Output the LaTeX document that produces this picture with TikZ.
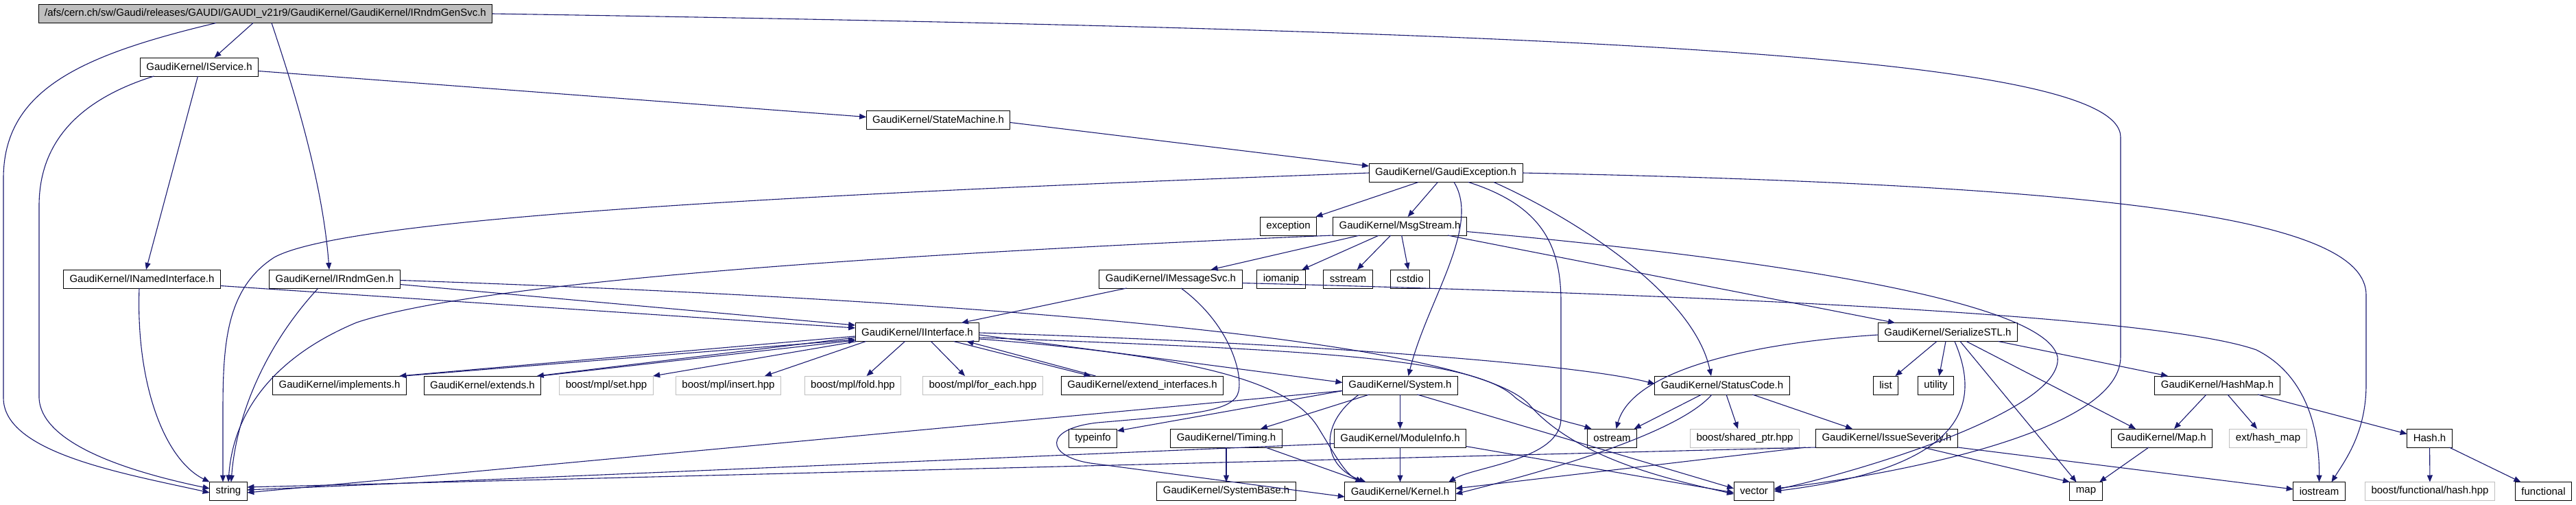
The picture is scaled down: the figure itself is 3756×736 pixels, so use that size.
\documentclass[tikz,border=0pt]{standalone}
\usepackage{fontspec}
\setmainfont{Liberation Sans}
\usetikzlibrary{arrows.meta}
\definecolor{incEdge}{HTML}{191970}
\definecolor{incGray}{HTML}{BFBFBF}
\tikzset{
  inc graph/.style={
    x=1pt, y=-1pt, line width=1pt,
    every node/.style={font=\fontsize{15}{18}\selectfont, text=black,
      inner xsep=9pt, inner ysep=0pt, outer sep=0pt, minimum height=27pt}
  },
  inc file/.style={draw=black},
  inc missing/.style={draw=incGray},
  inc root/.style={draw=black, fill=incGray},
  inc edge/.style={draw=incEdge, line width=1.1pt,
    -{Triangle[length=10pt,width=8pt]}}
}

\begin{document}
\begin{tikzpicture}[inc graph]
  \useasboundingbox (0,0) rectangle (3756,736);
  % files
  \node[inc root] (root) at (387,20)
    {/afs/cern.ch/sw/Gaudi/releases/GAUDI/GAUDI\_v21r9/GaudiKernel/GaudiKernel/IRndmGenSvc.h};
  \node[inc file] (IService) at (290.5,97.5) {GaudiKernel/IService.h};
  \node[inc file] (StateMachine) at (1368,174.5) {GaudiKernel/StateMachine.h};
  \node[inc file] (GaudiException) at (2108,252) {GaudiKernel/GaudiException.h};
  \node[inc file] (exception) at (1878.5,329.5) {exception};
  \node[inc file] (MsgStream) at (2041,329.5) {GaudiKernel/MsgStream.h};
  \node[inc file] (INamedInterface) at (207,406.5) {GaudiKernel/INamedInterface.h};
  \node[inc file] (IRndmGen) at (488,406.5) {GaudiKernel/IRndmGen.h};
  \node[inc file] (IMessageSvc) at (1707,406.5) {GaudiKernel/IMessageSvc.h};
  \node[inc file] (iomanip) at (1868,406.5) {iomanip};
  \node[inc file] (sstream) at (1965.5,406.5) {sstream};
  \node[inc file] (cstdio) at (2056,406.5) {cstdio};
  \node[inc file] (IInterface) at (1337.5,484) {GaudiKernel/IInterface.h};
  \node[inc file] (SerializeSTL) at (2840,484) {GaudiKernel/SerializeSTL.h};
  \node[inc file] (implements) at (495,561.5) {GaudiKernel/implements.h};
  \node[inc file] (extends) at (703.5,561.5) {GaudiKernel/extends.h};
  \node[inc missing] (mplset) at (884,561.5) {boost/mpl/set.hpp};
  \node[inc missing] (mplinsert) at (1062,561.5) {boost/mpl/insert.hpp};
  \node[inc missing] (mplfold) at (1243.5,561.5) {boost/mpl/fold.hpp};
  \node[inc missing] (mplforeach) at (1433,561.5) {boost/mpl/for\_each.hpp};
  \node[inc file] (extendif) at (1665.5,561.5) {GaudiKernel/extend\_interfaces.h};
  \node[inc file] (System) at (2041.5,561.5) {GaudiKernel/System.h};
  \node[inc file] (StatusCode) at (2511,561.5) {GaudiKernel/StatusCode.h};
  \node[inc file] (list) at (2749.5,561.5) {list};
  \node[inc file] (utility) at (2822.5,561.5) {utility};
  \node[inc file] (HashMap) at (3233,561.5) {GaudiKernel/HashMap.h};
  \node[inc file] (typeinfo) at (1593.5,638.5) {typeinfo};
  \node[inc file] (Timing) at (1788,638.5) {GaudiKernel/Timing.h};
  \node[inc file] (ModuleInfo) at (2041.5,638.5) {GaudiKernel/ModuleInfo.h};
  \node[inc file] (ostream) at (2350.5,638.5) {ostream};
  \node[inc missing] (sharedptr) at (2544,638.5) {boost/shared\_ptr.hpp};
  \node[inc file] (IssueSeverity) at (2751,638.5) {GaudiKernel/IssueSeverity.h};
  \node[inc file] (MapH) at (3152,638.5) {GaudiKernel/Map.h};
  \node[inc missing] (hashmap) at (3307,638.5) {ext/hash\_map};
  \node[inc file] (HashH) at (3542.5,638.5) {Hash.h};
  \node[inc file] (string) at (333,716) {string};
  \node[inc file] (SystemBase) at (1788,716) {GaudiKernel/SystemBase.h};
  \node[inc file] (Kernel) at (2041.5,716) {GaudiKernel/Kernel.h};
  \node[inc file] (vector) at (2557.5,716) {vector};
  \node[inc file] (map) at (3041.5,716) {map};
  \node[inc file] (iostream) at (3381.5,716) {iostream};
  \node[inc missing] (boosthash) at (3543,716) {boost/functional/hash.hpp};
  \node[inc file] (functional) at (3708.5,716) {functional};

  % includes
  \draw[inc edge] ([xshift=-18pt]root.south) -- ([xshift=22pt]IService.north);
  \draw[inc edge] ([xshift=9pt]root.south) .. controls (425,120) and (470,260) .. ([xshift=-8pt]IRndmGen.north);
  \draw[inc edge] ([xshift=-72pt]root.south) .. controls (120,80) and (5,130) .. (5,260)
    -- (5,580) .. controls (5,660) and (180,690) .. ([yshift=-2pt]string.west);
  \draw[inc edge] (root.east) .. controls (2300,45) and (3092,80) .. (3092,200)
    -- (3092,520) .. controls (3092,640) and (2700,700) .. ([yshift=4pt]vector.east);

  \draw[inc edge] ([yshift=-6pt]IService.east) -- ([yshift=4pt]StateMachine.west);
  \draw[inc edge] ([xshift=-2pt]IService.south) -- ([xshift=6pt]INamedInterface.north);
  \draw[inc edge] ([xshift=-66pt]IService.south) .. controls (100,150) and (57,220) .. (57,300)
    -- (57,580) .. controls (60,650) and (200,690) .. ([yshift=4pt]string.west);

  \draw[inc edge] ([yshift=-4pt]StateMachine.east) -- ([yshift=10pt]GaudiException.west);

  \draw[inc edge] (GaudiException.west) .. controls (1100,285) and (500,320) .. (400,375)
    .. controls (330,420) and (325,500) .. (325,600) -- ([xshift=-8pt]string.north);
  \draw[inc edge] (GaudiException) -- (exception);
  \draw[inc edge] (GaudiException) -- (MsgStream);
  \draw[inc edge] ([xshift=12pt]GaudiException.south) .. controls (2160,330) and (2080,440) .. ([xshift=12pt]System.north);
  \draw[inc edge] ([xshift=33pt]GaudiException.south) .. controls (2250,300) and (2276,360) .. (2276,440)
    -- (2276,610) .. controls (2276,670) and (2150,680) .. ([xshift=-10pt]Kernel.north east);
  \draw[inc edge] ([xshift=70pt]GaudiException.south) .. controls (2300,320) and (2470,430) .. ([xshift=-16pt]StatusCode.north);
  \draw[inc edge] (GaudiException.east) .. controls (3100,270) and (3450,320) .. (3450,430)
    -- (3450,560) .. controls (3450,630) and (3420,670) .. ([xshift=18pt]iostream.north);

  \draw[inc edge] (MsgStream) -- (IMessageSvc);
  \draw[inc edge] (MsgStream) -- (iomanip);
  \draw[inc edge] (MsgStream) -- (sstream);
  \draw[inc edge] (MsgStream) -- (cstdio);
  \draw[inc edge] (MsgStream.south west) .. controls (1300,370) and (700,410) .. (520,470)
    .. controls (400,520) and (340,600) .. (string.north);
  \draw[inc edge] ([xshift=70pt]MsgStream.south) -- ([xshift=-77pt]SerializeSTL.north);
  \draw[inc edge] ([yshift=-8pt]MsgStream.east) .. controls (2500,370) and (2980,430) .. (3000,520)
    .. controls (3010,600) and (2700,690) .. ([yshift=2pt]vector.east);

  \draw[inc edge] ([yshift=-10pt]INamedInterface.east) -- ([yshift=6pt]IInterface.west);
  \draw[inc edge] ([xshift=-4pt]INamedInterface.south) .. controls (198,560) and (240,670) .. (string.north west);

  \draw[inc edge] ([yshift=-8pt]IRndmGen.east) -- ([yshift=10pt]IInterface.west);
  \draw[inc edge] ([xshift=-24pt]IRndmGen.south) .. controls (390,500) and (345,600) .. ([xshift=4pt]string.north);
  \draw[inc edge] ([yshift=-2pt]IRndmGen.east) .. controls (1500,440) and (2150,500) .. (2230,590)
    .. controls (2300,670) and (2440,700) .. ([yshift=-4pt]vector.west);

  \draw[inc edge] (IMessageSvc) -- (IInterface);
  \draw[inc edge] ([yshift=-6pt]IMessageSvc.east) .. controls (2500,430) and (3150,460) .. (3290,510)
    .. controls (3370,550) and (3382,640) .. (iostream.north);
  \draw[inc edge] ([xshift=15pt]IMessageSvc.south) .. controls (1790,470) and (1812,540) .. (1806,570)
    .. controls (1800,600) and (1740,604) .. (1600,616) .. controls (1520,625) and (1525,665) .. (1590,675)
    -- ([yshift=-8pt]Kernel.west);

  \draw[inc edge] ([yshift=-6pt]IInterface.west) -- ([xshift=-10pt]implements.north east);
  \draw[inc edge] ([xshift=-4pt]implements.north east) -- ([yshift=-11pt]IInterface.west);
  \draw[inc edge] ([yshift=-8pt]IInterface.west) -- ([xshift=-6pt]extends.north east);
  \draw[inc edge] ([xshift=-1pt]extends.north east) -- ([yshift=-12pt]IInterface.west);
  \draw[inc edge] ([xshift=-88pt]IInterface.south) -- (mplset.north east);
  \draw[inc edge] ([xshift=-75pt]IInterface.south) -- ([xshift=53pt]mplinsert.north);
  \draw[inc edge] ([xshift=-18pt]IInterface.south) -- ([xshift=20pt]mplfold.north);
  \draw[inc edge] ([xshift=20pt]IInterface.south) -- ([xshift=-26pt]mplforeach.north);
  \draw[inc edge] ([xshift=53pt]IInterface.south) -- ([xshift=-75pt]extendif.north);
  \draw[inc edge] ([xshift=-68pt]extendif.north) -- ([xshift=72pt]IInterface.south);
  \draw[inc edge] ([yshift=-4pt]IInterface.east) -- ([yshift=4pt]System.west);
  \draw[inc edge] ([yshift=-1pt]IInterface.east) .. controls (1900,500) and (2300,530) .. ([yshift=2pt]StatusCode.west);
  \draw[inc edge] ([yshift=-8pt]IInterface.east) .. controls (1900,510) and (2150,520) .. (2210,580)
    .. controls (2250,610) and (2290,615) .. ([xshift=-30pt]ostream.north);
  \draw[inc edge] ([yshift=-10pt]IInterface.east) .. controls (1760,520) and (1880,560) .. (1920,620)
    .. controls (1945,660) and (1960,690) .. ([xshift=-55pt]Kernel.north);

  \draw[inc edge] ([yshift=-8pt]System.west) -- ([yshift=-3pt]typeinfo.north east);
  \draw[inc edge] ([xshift=-45pt]System.south) -- ([xshift=50pt]Timing.north);
  \draw[inc edge] (System) -- (ModuleInfo);
  \draw[inc edge] ([xshift=-60pt]System.south) .. controls (1920,620) and (1930,680) .. ([xshift=-50pt]Kernel.north);
  \draw[inc edge] ([yshift=-8pt]System.west) -- ([yshift=-2pt]string.east);
  \draw[inc edge] ([xshift=25pt]System.south) -- ([yshift=4pt]vector.west);

  \draw[inc edge] (Timing) -- (SystemBase);
  \draw[inc edge] ([xshift=-24pt]Timing.south east) -- ([xshift=-54pt]Kernel.north);

  \draw[inc edge] (ModuleInfo) -- (Kernel);
  \draw[inc edge] ([yshift=-8pt]ModuleInfo.west) -- ([yshift=2pt]string.east);
  \draw[inc edge] ([yshift=-12pt]ModuleInfo.east) -- ([yshift=-2pt]vector.west);

  \draw[inc edge] ([xshift=-30pt]StatusCode.south) -- ([xshift=-4pt]ostream.north east);
  \draw[inc edge] ([xshift=-15pt]StatusCode.south) .. controls (2440,640) and (2200,700) .. ([yshift=-4pt]Kernel.east);
  \draw[inc edge] ([xshift=6pt]StatusCode.south) -- ([xshift=-10pt]sharedptr.north);
  \draw[inc edge] ([xshift=-54pt]StatusCode.south east) -- ([xshift=-50pt]IssueSeverity.north);

  \draw[inc edge] ([xshift=-15pt]IssueSeverity.south west) -- ([yshift=4pt]Kernel.east);
  \draw[inc edge] (IssueSeverity.south west) -- ([yshift=6pt]string.east);
  \draw[inc edge] ([xshift=-51pt]IssueSeverity.south east) -- (map.north west);
  \draw[inc edge] (IssueSeverity.south east) -- ([yshift=3pt]iostream.west);

  \draw[inc edge] ([yshift=-4pt]SerializeSTL.west) .. controls (2550,500) and (2380,540) .. ([xshift=6pt]ostream.north);
  \draw[inc edge] ([xshift=-16pt]SerializeSTL.south) -- ([xshift=14pt]list.north);
  \draw[inc edge] ([xshift=-3pt]SerializeSTL.south) -- ([xshift=5pt]utility.north);
  \draw[inc edge] ([xshift=10pt]SerializeSTL.south) .. controls (2885,580) and (2880,680) .. (vector.east);
  \draw[inc edge] ([xshift=18pt]SerializeSTL.south) -- ([xshift=-14pt]map.north);
  \draw[inc edge] ([xshift=27pt]SerializeSTL.south) -- ([xshift=-38pt]MapH.north);
  \draw[inc edge] ([xshift=-28pt]SerializeSTL.south east) -- ([xshift=-72pt]HashMap.north);

  \draw[inc edge] ([xshift=-16pt]HashMap.south) -- ([xshift=18pt]MapH.north);
  \draw[inc edge] ([xshift=15pt]HashMap.south) -- ([xshift=-16pt]hashmap.north);
  \draw[inc edge] ([xshift=-32pt]HashMap.south east) -- ([yshift=6pt]HashH.west);

  \draw[inc edge] ([xshift=-19pt]MapH.south) -- ([xshift=-4pt]map.north east);

  \draw[inc edge] (HashH) -- (boosthash);
  \draw[inc edge] ([xshift=-4pt]HashH.south east) -- ([xshift=8pt]functional.north west);
\end{tikzpicture}
\end{document}
